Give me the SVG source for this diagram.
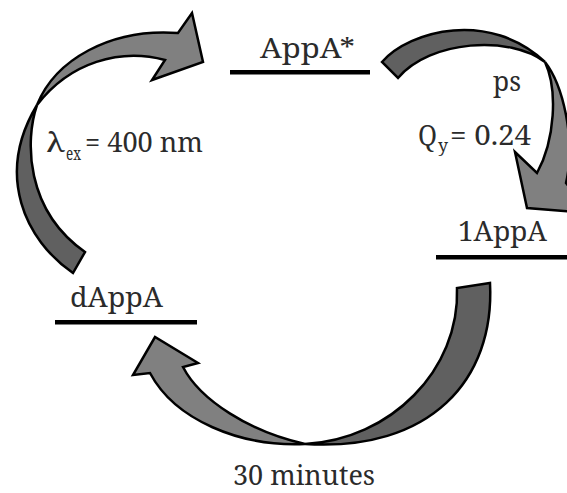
<svg xmlns="http://www.w3.org/2000/svg" width="567" height="493" viewBox="0 0 567 493">
<style>
  .t { font-family: 'Noto Serif', 'DejaVu Serif', serif; font-size: 28px; fill: #2b2b2b; }
  .sub { font-size: 18px; }
  .bar { fill: #000; }
  .back { fill: #606060; stroke: #000; stroke-width: 2.5; stroke-linejoin: miter; }
  .front { fill: #808080; stroke: #000; stroke-width: 2.5; stroke-linejoin: miter; }
</style>
<rect width="567" height="493" fill="#fff"/>
<g id="connectors">
  <g id="arrow-excitation">
    <path class="back" d="M73,273 C25,240 -5,175 37,105 C25,140 25,210 85,252 Z"/>
    <path class="front" d="M37,105 C55,60 110,28 178,33 L192,13 L203,62 L152,80 L165,60 C120,48 70,62 37,105 Z"/>
  </g>
  <g id="arrow-ps">
    <path class="back" d="M382,62 C410,30 490,10 545,62 C510,35 430,40 398,78 Z"/>
    <path class="front" d="M545,62 C563,85 576,140 566,183 L590,213 L527,208 L515,152 L537,173 C555,140 558,90 545,62 Z"/>
  </g>
  <g id="arrow-thermal">
    <path class="back" d="M305,444 C390,440 460,370 457,288 L490,283 C495,380 430,452 305,444 Z"/>
    <path class="front" d="M305,444 C250,432 200,400 183,367 L198,363 L155,337 L133,375 L150,373 C175,420 240,447 305,444 Z"/>
  </g>
  <g id="labels">
    <text class="t" x="45" y="152" textLength="20" lengthAdjust="spacingAndGlyphs">λ</text><text class="t sub" x="66" y="160" textLength="15" lengthAdjust="spacingAndGlyphs">ex</text><text class="t" x="85" y="152" textLength="118" lengthAdjust="spacingAndGlyphs">= 400 nm</text>
    <text class="t" x="493" y="91" textLength="28" lengthAdjust="spacingAndGlyphs">ps</text>
    <text class="t" x="418" y="145" textLength="19" lengthAdjust="spacingAndGlyphs">Q</text><text class="t sub" x="438" y="152" textLength="10" lengthAdjust="spacingAndGlyphs">y</text><text class="t" x="450" y="145" textLength="81" lengthAdjust="spacingAndGlyphs">= 0.24</text>
    <text class="t" x="233" y="485" textLength="142" lengthAdjust="spacingAndGlyphs">30 minutes</text>
  </g>
</g>
<g id="node-AppA-star">
  <text class="t" x="260" y="58" textLength="95" lengthAdjust="spacingAndGlyphs">AppA*</text>
  <rect class="bar" x="230" y="70" width="140" height="4.5"/>
</g>
<g id="node-1AppA">
  <text class="t" x="458" y="241" textLength="89" lengthAdjust="spacingAndGlyphs">1AppA</text>
  <rect class="bar" x="436" y="255" width="131" height="4.5"/>
</g>
<g id="node-dAppA">
  <text class="t" x="70" y="307" textLength="93" lengthAdjust="spacingAndGlyphs">dAppA</text>
  <rect class="bar" x="55" y="320" width="142" height="4.5"/>
</g>
</svg>
